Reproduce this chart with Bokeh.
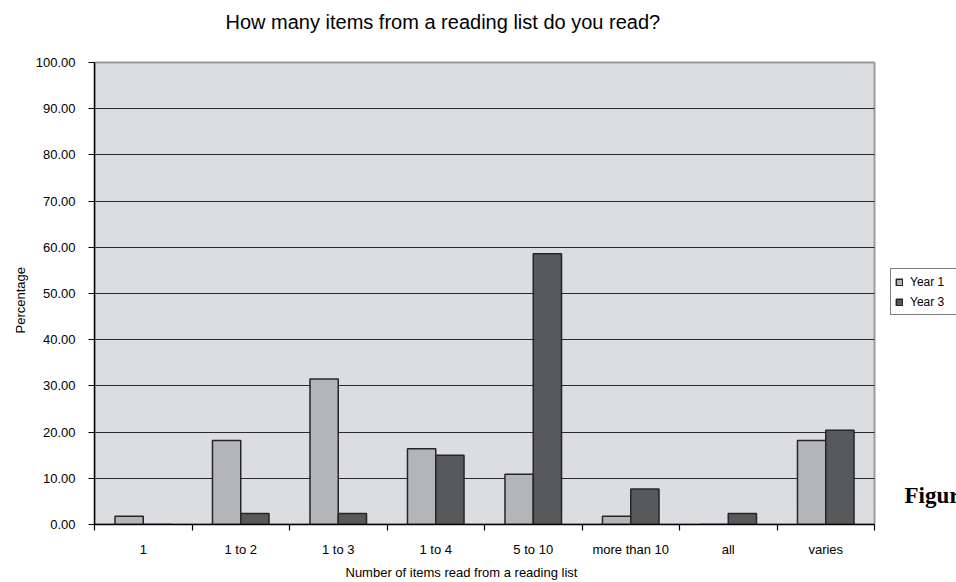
from bokeh.plotting import figure
from bokeh.models import (Range1d, FixedTicker, NumeralTickFormatter, Label, Title,
                          Legend, LegendItem, ColumnDataSource, BoxAnnotation, Grid)
from bokeh.embed import file_html
from bokeh.resources import INLINE

# ---- data ----
categories = ["1", "1 to 2", "1 to 3", "1 to 4", "5 to 10", "more than 10", "all", "varies"]
year1 = [1.8, 18.2, 31.5, 16.4, 10.9, 1.8, 0.0, 18.2]
year3 = [0.0, 2.4, 2.4, 15.0, 58.6, 7.7, 2.4, 20.4]
y_ticks = [0, 10, 20, 30, 40, 50, 60, 70, 80, 90, 100]
series_names = ["Year 1", "Year 3"]
title_text = "How many items from a reading list do you read?"
x_title = "Number of items read from a reading list"
y_title = "Percentage"
caption_text = "Figure"

FONT = "Liberation Sans"
n = len(categories)
centers = [i + 0.5 for i in range(n)]
bw = 0.29
y_max = y_ticks[-1]

# layout (pixels)
W, H = 956, 582
LEFT, BOTTOM = 94, 58
PLOT_W, PLOT_H = 780, 462        # grey chart area
FRAME_W = W - LEFT               # frame extends to the right edge
FRAME_H = H - BOTTOM             # and to the top edge
x_end = n * FRAME_W / PLOT_W
y_end = y_max * FRAME_H / PLOT_H

src = ColumnDataSource(dict(
    x1=[c - bw / 2 for c in centers],
    x3=[c + bw / 2 for c in centers],
    y1=year1, y3=year3,
))

p = figure(width=W, height=H, output_backend="svg", toolbar_location=None,
           x_range=Range1d(0, x_end), y_range=Range1d(0, y_end),
           min_border_left=LEFT, min_border_right=0, min_border_top=0,
           min_border_bottom=BOTTOM)
p.background_fill_color = "white"
p.border_fill_color = "white"
p.outline_line_color = None

# grey chart area
area = BoxAnnotation(left=0, right=n, bottom=0, top=y_max, level="underlay",
                     fill_color="#dcdde0", fill_alpha=1,
                     line_color="#9a9a9a", line_width=2, line_alpha=1)
p.center = [area] + list(p.center)

# grid
p.xgrid.visible = False
grid_ticks = y_ticks[1:-1]
if "cross_bounds" in Grid.properties():
    p.ygrid.ticker = FixedTicker(ticks=grid_ticks)
    p.ygrid.cross_bounds = (0, n)
    p.ygrid.grid_line_color = "#2a2a2a"
    p.ygrid.grid_line_width = 1.2
else:
    p.ygrid.visible = False
    p.segment(x0=[0] * len(grid_ticks), x1=[n] * len(grid_ticks),
              y0=grid_ticks, y1=grid_ticks, line_color="#2a2a2a", line_width=1.2)

r1 = p.vbar(x="x1", top="y1", bottom=0, width=bw, source=src,
            fill_color="#b4b5b8", line_color="#262626", line_width=1.5)
r3 = p.vbar(x="x3", top="y3", bottom=0, width=bw, source=src,
            fill_color="#58595b", line_color="#262626", line_width=1.5)

# y axis
ya = p.yaxis[0]
ya.bounds = (0, y_max)
ya.ticker = FixedTicker(ticks=y_ticks)
ya.formatter = NumeralTickFormatter(format="0.00")
ya.major_tick_out = 6
ya.major_tick_in = 0
ya.minor_tick_out = 0
ya.minor_tick_in = 0
ya.axis_line_color = "black"
ya.axis_line_width = 1.5
ya.major_tick_line_color = "black"
ya.major_tick_line_width = 1.2
ya.major_label_text_font = FONT
ya.major_label_text_font_size = "13px"
ya.major_label_text_color = "black"
ya.major_label_standoff = 13

# y axis title: rotated title in the left border, placed along the grey area
yt = Title(text=y_title, align="left", offset=191, standoff=10,
           text_font=FONT, text_font_size="13px", text_font_style="normal",
           text_color="black")
p.add_layout(yt, "left")

# x axis
xa = p.xaxis[0]
xa.bounds = (0, n)
xa.ticker = FixedTicker(ticks=centers, minor_ticks=list(range(n + 1)))
xa.major_label_overrides = {c: lab for c, lab in zip(centers, categories)}
xa.major_tick_out = 0
xa.major_tick_in = 0
xa.minor_tick_out = 6
xa.minor_tick_in = 0
xa.minor_tick_line_color = "black"
xa.minor_tick_line_width = 1.2
xa.axis_line_color = "black"
xa.axis_line_width = 1.5
xa.major_label_text_font = FONT
xa.major_label_text_font_size = "13px"
xa.major_label_text_color = "black"
xa.major_label_standoff = 11

xt = Title(text=x_title, align="left", offset=251, standoff=6,
           text_font=FONT, text_font_size="13px", text_font_style="normal",
           text_color="black")
p.add_layout(xt, "below")

# chart title (inside the extended frame, above the grey area)
p.add_layout(Label(x=131, y=503, x_units="screen", y_units="screen",
                   text=title_text, text_font=FONT, text_font_size="20px",
                   text_color="black", text_align="left", text_baseline="middle"))

# stray document caption at right
p.add_layout(Label(x=810, y=29, x_units="screen", y_units="screen",
                   text=caption_text, text_font="Liberation Serif",
                   text_font_size="23px", text_font_style="bold",
                   text_color="black", text_align="left", text_baseline="middle"))

legend = Legend(items=[LegendItem(label=series_names[0], renderers=[r1]),
                       LegendItem(label=series_names[1], renderers=[r3])],
                location=(796, 209))
legend.border_line_color = "black"
legend.border_line_width = 1
legend.background_fill_color = "white"
legend.background_fill_alpha = 1
legend.padding = 4
legend.spacing = 3
legend.margin = 0
legend.label_height = 17
legend.glyph_height = 8
legend.glyph_width = 8
legend.label_standoff = 7
legend.label_text_font = FONT
legend.label_text_font_size = "12px"
legend.label_text_color = "black"
legend.label_width = 60
p.add_layout(legend, "center")

open("out.html", "w").write(file_html(p, INLINE))
